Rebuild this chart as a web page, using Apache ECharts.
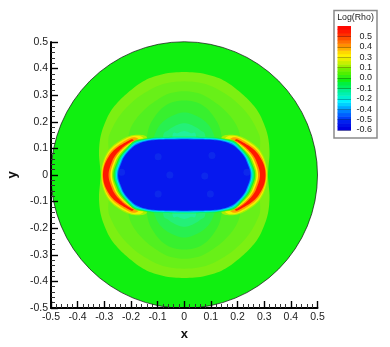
<!DOCTYPE html>
<html><head><meta charset="utf-8">
<style>html,body{margin:0;padding:0;background:#fff}#c{width:390px;height:347px;filter:blur(0.45px)}</style>
<script src="https://cdn.jsdelivr.net/npm/echarts@6/dist/echarts.min.js"></script>
</head><body><div id="c"></div>
<script>
// Axis ticks
var axisMin = -0.5, axisMax = 0.5, axisStep = 0.1;
var diskRadius = 0.5;
// Colour-bar
var legendLevels = [-0.62,-0.495,-0.37,-0.245,-0.12,0.005,0.13,0.255,0.38,0.505];
var legendLabels = ['-0.6','-0.5','-0.4','-0.2','-0.1','0.0','0.1','0.3','0.4','0.5'];
var legendColors = ['#0000e0','#0010e8','#0020f0','#0040f8','#0060ff','#0080ff','#00a8ff','#00d0ff','#00f0ff','#00f0d0','#00f0b0','#00f090','#00f060','#00f040','#10f010','#30f010','#50f000','#70f000','#a0f000','#c8f000','#e8f000','#fff000','#ffd800','#ffb000','#ff9000','#ff7000','#ff5000','#ff3000','#ff1800','#ff0800'];
var legendMin = -0.62, legendMax = 0.63;
// Contours of Log(Rho): first quadrant, from the y axis to the x axis
var lobeOuter = [[0,.387],[.06,.383],[.123,.367],[.17,.342],[.211,.31],[.245,.278],[.276,.24],[.3,.19],[.315,.14],[.32,.083],[.316,.03],[.314,0]];
var lobeA = [[0,.352],[.08,.342],[.15,.308],[.20,.27],[.245,.22],[.275,.165],[.285,.13],[.28,.06],[.27,0]];
var lobeB = [[0,.315],[.06,.305],[.11,.277],[.15,.245],[.185,.205],[.205,.165],[.21,.12],[.2,0]];
var lobeC = [[0,.28],[.05,.272],[.09,.245],[.12,.205],[.135,.17],[.14,.12],[.13,0]];
var lobeD = [[0,.235],[.04,.225],[.08,.20],[.105,.165],[.115,.12],[.1,0]];
var lobeE = [[0,.195],[.03,.187],[.06,.168],[.08,.14],[.07,0]];
var lobeF = [[0,.165],[.025,.157],[.045,.145],[.05,0]];
var crescentLime = [[0,.12],[.12,.125],[.145,.147],[.177,.151],[.209,.146],[.246,.127],[.277,.102],[.297,.072],[.309,.035],[.312,0]];
var crescentYellow = [[0,.12],[.13,.122],[.158,.143],[.18,.148],[.205,.143],[.242,.124],[.273,.1],[.293,.071],[.306,.035],[.31,0]];
var crescentOrange = [[0,.12],[.15,.122],[.175,.138],[.19,.142],[.207,.137],[.237,.12],[.268,.097],[.289,.07],[.303,.035],[.308,0]];
var crescentRed = [[0,.12],[.17,.122],[.19,.132],[.2,.133],[.232,.116],[.262,.095],[.284,.068],[.3,.035],[.305,0]];
var innerOrange = [[0,.12],[.14,.122],[.17,.133],[.19,.13],[.21,.119],[.235,.1],[.262,.069],[.275,.04],[.282,.018],[.284,0]];
var innerYellow = [[0,.12],[.12,.122],[.16,.136],[.185,.128],[.203,.119],[.228,.1],[.255,.069],[.268,.04],[.275,.018],[.277,0]];
var innerLime = [[0,.13],[.1,.13],[.14,.137],[.18,.133],[.197,.119],[.222,.1],[.249,.069],[.262,.04],[.269,.018],[.271,0]];
var innerGreen = [[0,.144],[.07,.143],[.115,.141],[.15,.136],[.19,.126],[.217,.1],[.243,.069],[.256,.04],[.264,.018],[.266,0]];
var innerMint = [[0,.143],[.07,.142],[.115,.14],[.15,.134],[.186,.124],[.212,.1],[.238,.069],[.251,.04],[.259,.018],[.261,0]];
var innerCyan = [[0,.14],[.07,.139],[.115,.137],[.15,.131],[.183,.121],[.207,.1],[.233,.069],[.246,.04],[.254,.018],[.256,0]];
var innerAzure = [[0,.137],[.07,.136],[.115,.134],[.15,.128],[.18,.118],[.203,.1],[.229,.069],[.242,.04],[.25,.018],[.252,0]];
var innerBlue = [[0,.134],[.07,.133],[.115,.131],[.15,.125],[.177,.115],[.198,.1],[.225,.069],[.238,.04],[.246,.018],[.248,0]];
var layerCurves = [lobeOuter,lobeA,lobeB,lobeC,lobeD,lobeE,lobeF,crescentLime,crescentYellow,crescentOrange,crescentRed,innerOrange,innerYellow,innerLime,innerGreen,innerMint,innerCyan,innerAzure,innerBlue];
var layerColors = ['#7cf012','#68f018','#52f020','#38f02e','#28f050','#24f078','#22f09c','#a8f000','#f4f000','#ffa000','#ff1800','#ff9000','#fff000','#90f000','#20f020','#00f090','#00e4f4','#0080fc','#0618ee'];
// Faint lighter patches inside the low-density core
var corePatches = [[-.098,.069],[.104,.073],[-.054,0],[.077,-.004],[-.098,-.071],[.098,-.071],[-.235,.01],[.235,.01]];

function closed(curve){
  var pts = [], i;
  for(i=0;i<curve.length;i++) pts.push([curve[i][0],curve[i][1]]);
  for(i=curve.length-2;i>=0;i--) pts.push([curve[i][0],-curve[i][1]]);
  for(i=1;i<curve.length;i++) pts.push([-curve[i][0],-curve[i][1]]);
  for(i=curve.length-2;i>0;i--) pts.push([-curve[i][0],curve[i][1]]);
  return pts;
}
// Rounds a traced contour (closed Catmull-Rom through its traced points), no new values
function rounded(pts){
  var out=[], n=pts.length, i, s;
  for(i=0;i<n;i++){
    var a=pts[(i-1+n)%n], b=pts[i], c=pts[(i+1)%n], d=pts[(i+2)%n];
    for(s=0;s<6;s++){
      var t=s/6, t2=t*t, t3=t2*t;
      out.push([0,1].map(function(k){
        return 0.5*(2*b[k]+(c[k]-a[k])*t+(2*a[k]-5*b[k]+4*c[k]-d[k])*t2+(3*b[k]-a[k]-3*c[k]+d[k])*t3);
      }));
    }
  }
  return out;
}
var font = '"Liberation Sans",Arial,Helvetica,sans-serif';
var chart = echarts.init(document.getElementById('c'),null,{renderer:'canvas',width:390,height:347});
function fmt(v){ return Math.abs(v)<1e-9 ? '0' : (+v).toFixed(1); }
chart.setOption({
  animation:false,
  backgroundColor:'#fff',
  graphic:[
    {type:'rect',z:0,shape:{x:334,y:10.5,width:43,height:127.5},style:{fill:'#fff',stroke:'#8a8a8a',lineWidth:1.5}},
    {type:'text',z:5,x:355.5,y:17.5,style:{text:'Log(Rho)',fontFamily:font,fontSize:8.8,fill:'#222',textAlign:'center',textVerticalAlign:'middle'}}
  ],
  grid:[
    {left:51,top:42,width:266.5,height:266,outerBoundsMode:'none'},
    {left:337.5,top:26,width:13.5,height:104,outerBoundsMode:'none'}
  ],
  xAxis:[
    {gridIndex:0,type:'value',min:axisMin,max:axisMax,interval:axisStep,z:10,
     name:'x',nameLocation:'middle',nameGap:11,nameTextStyle:{fontFamily:font,fontWeight:'bold',fontSize:13,color:'#111'},
     axisLine:{show:true,onZero:false,lineStyle:{color:'#000',width:2}},
     axisTick:{show:true,inside:true,length:7,lineStyle:{color:'#000',width:1.4}},
     minorTick:{show:true,splitNumber:5,length:4,lineStyle:{color:'#333',width:1}},
     splitLine:{show:false},
     axisLabel:{margin:4,formatter:fmt,showMinLabel:true,showMaxLabel:true,hideOverlap:false,fontFamily:font,fontSize:10.5,color:'#222'}},
    {gridIndex:1,type:'value',min:0,max:1,show:false}
  ],
  yAxis:[
    {gridIndex:0,type:'value',min:axisMin,max:axisMax,interval:axisStep,z:10,
     name:'y',nameLocation:'middle',nameGap:14,nameTextStyle:{fontFamily:font,fontWeight:'bold',fontSize:13,color:'#111'},
     axisLine:{show:true,onZero:false,lineStyle:{color:'#000',width:2}},
     axisTick:{show:true,inside:true,length:7,lineStyle:{color:'#000',width:1.4}},
     minorTick:{show:true,splitNumber:5,length:4,lineStyle:{color:'#333',width:1}},
     splitLine:{show:false},
     axisLabel:{margin:3,formatter:fmt,showMinLabel:true,showMaxLabel:true,hideOverlap:false,fontFamily:font,fontSize:10.5,color:'#222'}},
    {gridIndex:1,type:'value',position:'right',min:legendMin,max:legendMax,z:10,
     axisLine:{show:false,onZero:false},
     axisTick:{show:true,inside:true,length:13.5,customValues:legendLevels,lineStyle:{color:'rgba(0,0,0,0.28)',width:1}},
     splitLine:{show:false},
     axisLabel:{margin:21,align:'right',customValues:legendLevels,hideOverlap:false,showMinLabel:true,showMaxLabel:true,fontFamily:font,fontSize:9,color:'#222',
       formatter:function(v){var k=-1;legendLevels.forEach(function(l,i){if(Math.abs(l-v)<1e-6)k=i;});return k<0?'':legendLabels[k];}}}
  ],
  series:[
    {type:'custom',xAxisIndex:0,yAxisIndex:0,z:1,clip:false,silent:true,data:[[0,0,diskRadius]],
     renderItem:function(p,api){
       var c=api.coord([api.value(0),api.value(1)]), s=api.size([api.value(2),api.value(2)]);
       return {type:'circle',shape:{cx:c[0],cy:c[1],r:s[0]},style:{fill:'#10f010',stroke:'#111',lineWidth:0.7}};
     }},
    {type:'custom',xAxisIndex:0,yAxisIndex:0,z:2,clip:false,silent:true,
     data:layerCurves.map(function(c,i){return [0,0,i];}),
     renderItem:function(p,api){
       var i=api.value(2);
       return {type:'polygon',shape:{points:rounded(closed(layerCurves[i])).map(function(q){return api.coord(q);})},style:{fill:layerColors[i]}};
     }},
    {type:'scatter',xAxisIndex:0,yAxisIndex:0,z:3,silent:true,symbolSize:7,data:corePatches,itemStyle:{color:'#1a48e8',opacity:0.35}},
    {type:'custom',xAxisIndex:1,yAxisIndex:1,z:2,silent:true,
     data:legendColors.map(function(c,i){return [0,i];}),
     renderItem:function(p,api){
       var i=api.value(1), step=(legendMax-legendMin)/legendColors.length;
       var a=api.coord([0,legendMin+(i+1)*step]), b=api.coord([1,legendMin+i*step]);
       return {type:'rect',shape:{x:a[0],y:a[1],width:b[0]-a[0],height:b[1]-a[1]+0.5},style:{fill:legendColors[i]}};
     }}
  ]
});
</script></body></html>
